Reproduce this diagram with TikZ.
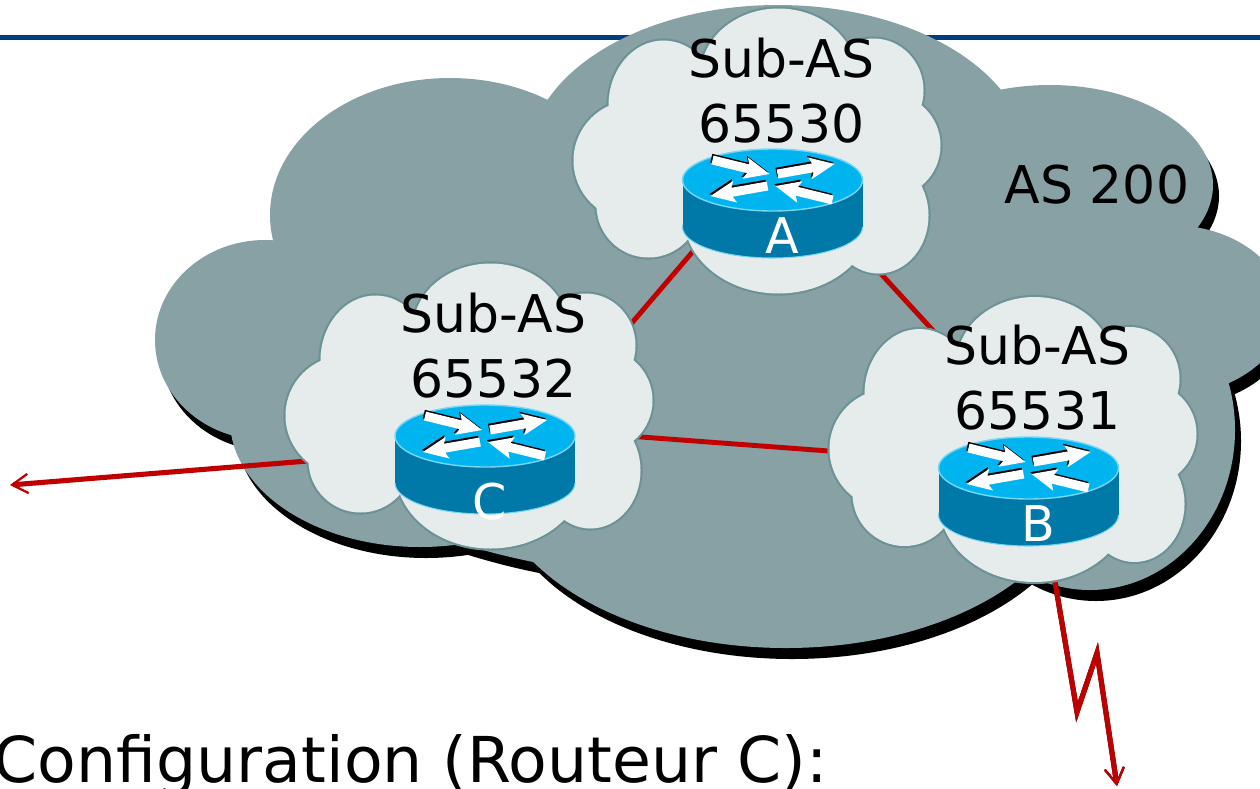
\documentclass[tikz,border=0pt]{standalone}
\usepackage{fontspec}
\setmainfont{DejaVu Sans}
\usetikzlibrary{calc,arrows.meta}

\definecolor{asgray}{RGB}{135,161,165}
\definecolor{subfill}{RGB}{230,236,236}
\definecolor{subline}{RGB}{108,146,150}
\definecolor{linkred}{RGB}{192,0,0}
\definecolor{navy}{RGB}{0,62,126}
\definecolor{rtop}{RGB}{0,181,239}
\definecolor{rside}{RGB}{0,121,169}
\definecolor{rrim}{RGB}{120,214,245}

\tikzset{
	link/.style={linkred, line width=2.8pt},
	extlink/.style={line width=2.9pt, -{Straight Barb[length=9pt,width=11pt,line width=1.3pt]}},
	sublabel/.style={align=center, inner sep=0pt, font=\fontsize{29.6}{37}\selectfont},
	routerlabel/.style={white, inner sep=0pt, anchor=base, font=\fontsize{28}{30}\selectfont},
}

% lobes of the clouds: x/y/x radius/y radius
\def\lobesub{22/-75/78/67, -93/-45/55/65, -123/10/60/60, -108/55/52/52, 22/65/95/78, 122/65/50/58, 132/-5/52/52, 117/-60/50/52, 0/0/140/100}
\def\lobebig{450/215/180/137, 265/340/110/100, 420/420/190/127, 786/470/295/178, 1090/430/145/160, 1170/310/115/85, 1050/185/163/100, 778/160/250/155, 720/380/450/200}

\def\subcloud(#1){
	\begin{scope}[shift={(#1)}]
		\foreach \ox/\oy/\rx/\ry in \lobesub
			\draw[subline, line width=2.4pt] (\ox,\oy) ellipse [x radius=\rx, y radius=\ry];
		\foreach \ox/\oy/\rx/\ry in \lobesub
			\fill[subfill] (\ox,\oy) ellipse [x radius=\rx, y radius=\ry];
	\end{scope}
}

% the four arrows on top of a router: tail x/y/tip x/y
\def\rarrows#1{
	\foreach \ax/\ay/\bx/\by in {-60/-20/-3/-6, 5/-6/62/-16, -5/6/-62/16, 60/20/3/6}{
		\pgfmathsetmacro{\aang}{atan2(\ay-\by,\bx-\ax)}
		\pgfmathsetmacro{\alen}{veclen(\bx-\ax,\by-\ay)}
		\fill[#1, shift={(\ax,\ay)}, rotate=\aang] (0,-4.5) -- (\alen-22,-4.5) -- (\alen-25,-11) -- (\alen,0) -- (\alen-25,11) -- (\alen-22,4.5) -- (0,4.5) -- cycle;
	}
}

\def\router(#1){
	\begin{scope}[shift={(#1)}]
		\fill[rside] (-90,0) rectangle (90,47);
		\fill[rside] (0,47) ellipse [x radius=90, y radius=31];
		\draw[rrim, line width=0.6pt] (-90,47) arc [start angle=180, end angle=0, x radius=90, y radius=31];
		\fill[rtop] (0,0) ellipse [x radius=90, y radius=31];
		\draw[rrim, line width=0.8pt] (0,0) ellipse [x radius=90, y radius=31];
		\begin{scope}[shift={(-1.2,-1.8)}]
			\rarrows{black}
		\end{scope}
		\rarrows{white}
	\end{scope}
}

\begin{document}
\begin{tikzpicture}[x=0.02cm, y=-0.02cm]
			%%%%% START %%%%%
			\clip (0,0) rectangle (1260,788);
			
			\draw[navy, line width=2.3pt] (0,37.5) -- (1260,37.5);
			
			% AS 200 cloud with its shadow
			\begin{scope}[shift={(6,11)}]
				\foreach \ox/\oy/\rx/\ry in \lobebig
					\fill[black] (\ox,\oy) ellipse [x radius=\rx, y radius=\ry];
			\end{scope}
			\foreach \ox/\oy/\rx/\ry in \lobebig
				\fill[asgray] (\ox,\oy) ellipse [x radius=\rx, y radius=\ry];
			
			\coordinate (sA) at (756.5,150.5);
			\coordinate (sB) at (1012.5,439);
			\coordinate (sC) at (468.5,405.5);
			
			\coordinate (rA) at (772.5,180);
			\coordinate (rB) at (1028.5,468);
			\coordinate (rC) at (485,436);
			
			\coordinate (pAC) at (724,215);
			\coordinate (pCA) at (596,365);
			\coordinate (pAB) at (860,251);
			\coordinate (pBA) at (950,349);
			\coordinate (pCB) at (620,435.4);
			\coordinate (pBC) at (850,452.6);
			
			\coordinate (pCout) at (330,459.2);
			\coordinate (extC) at (10,485);
			\coordinate (pBout) at (1053,570);
			\coordinate (zz1) at (1077,712);
			\coordinate (zz2) at (1097,653);
			\coordinate (extB) at (1117,786);
			
			\draw[link] (pAC) -- (pCA);
			\draw[link] (pAB) -- (pBA);
			\draw[link] (pCB) -- (pBC);
			
			\draw[extlink, linkred] (pCout) -- (extC);
			\begin{scope}[shift={(4,1.5)}]
				\draw[extlink, black, line join=miter] (pBout) -- (zz1) -- (zz2) -- (extB);
			\end{scope}
			\draw[extlink, linkred, line join=miter] (pBout) -- (zz1) -- (zz2) -- (extB);
			
			\subcloud(sA)
			\subcloud(sC)
			\subcloud(sB)
			
			\router(rA)
			\router(rC)
			\router(rB)
			
			\node[routerlabel] (nA) at (782,253) {A};
			\node[routerlabel] (nC) at (490,519) {C};
			\node[routerlabel] (nB) at (1038,541) {B};
			
			\node[sublabel, anchor=north] (lblA) at (781.5,38) {Sub-AS\\65530};
			\node[sublabel, anchor=north] (lblC) at (493.5,293) {Sub-AS\\65532};
			\node[sublabel, anchor=north] (lblB) at (1037.5,325) {Sub-AS\\65531};
			\node[sublabel, anchor=base] (lblAS) at (1097,203) {AS 200};
			
			\node[anchor=base west, inner sep=0pt, font=\fontsize{36}{42}\selectfont] (cfg) at (-6.5,782) {Configuration (Routeur C):};
			
			%%%%% END %%%%%
\end{tikzpicture}
\end{document}
